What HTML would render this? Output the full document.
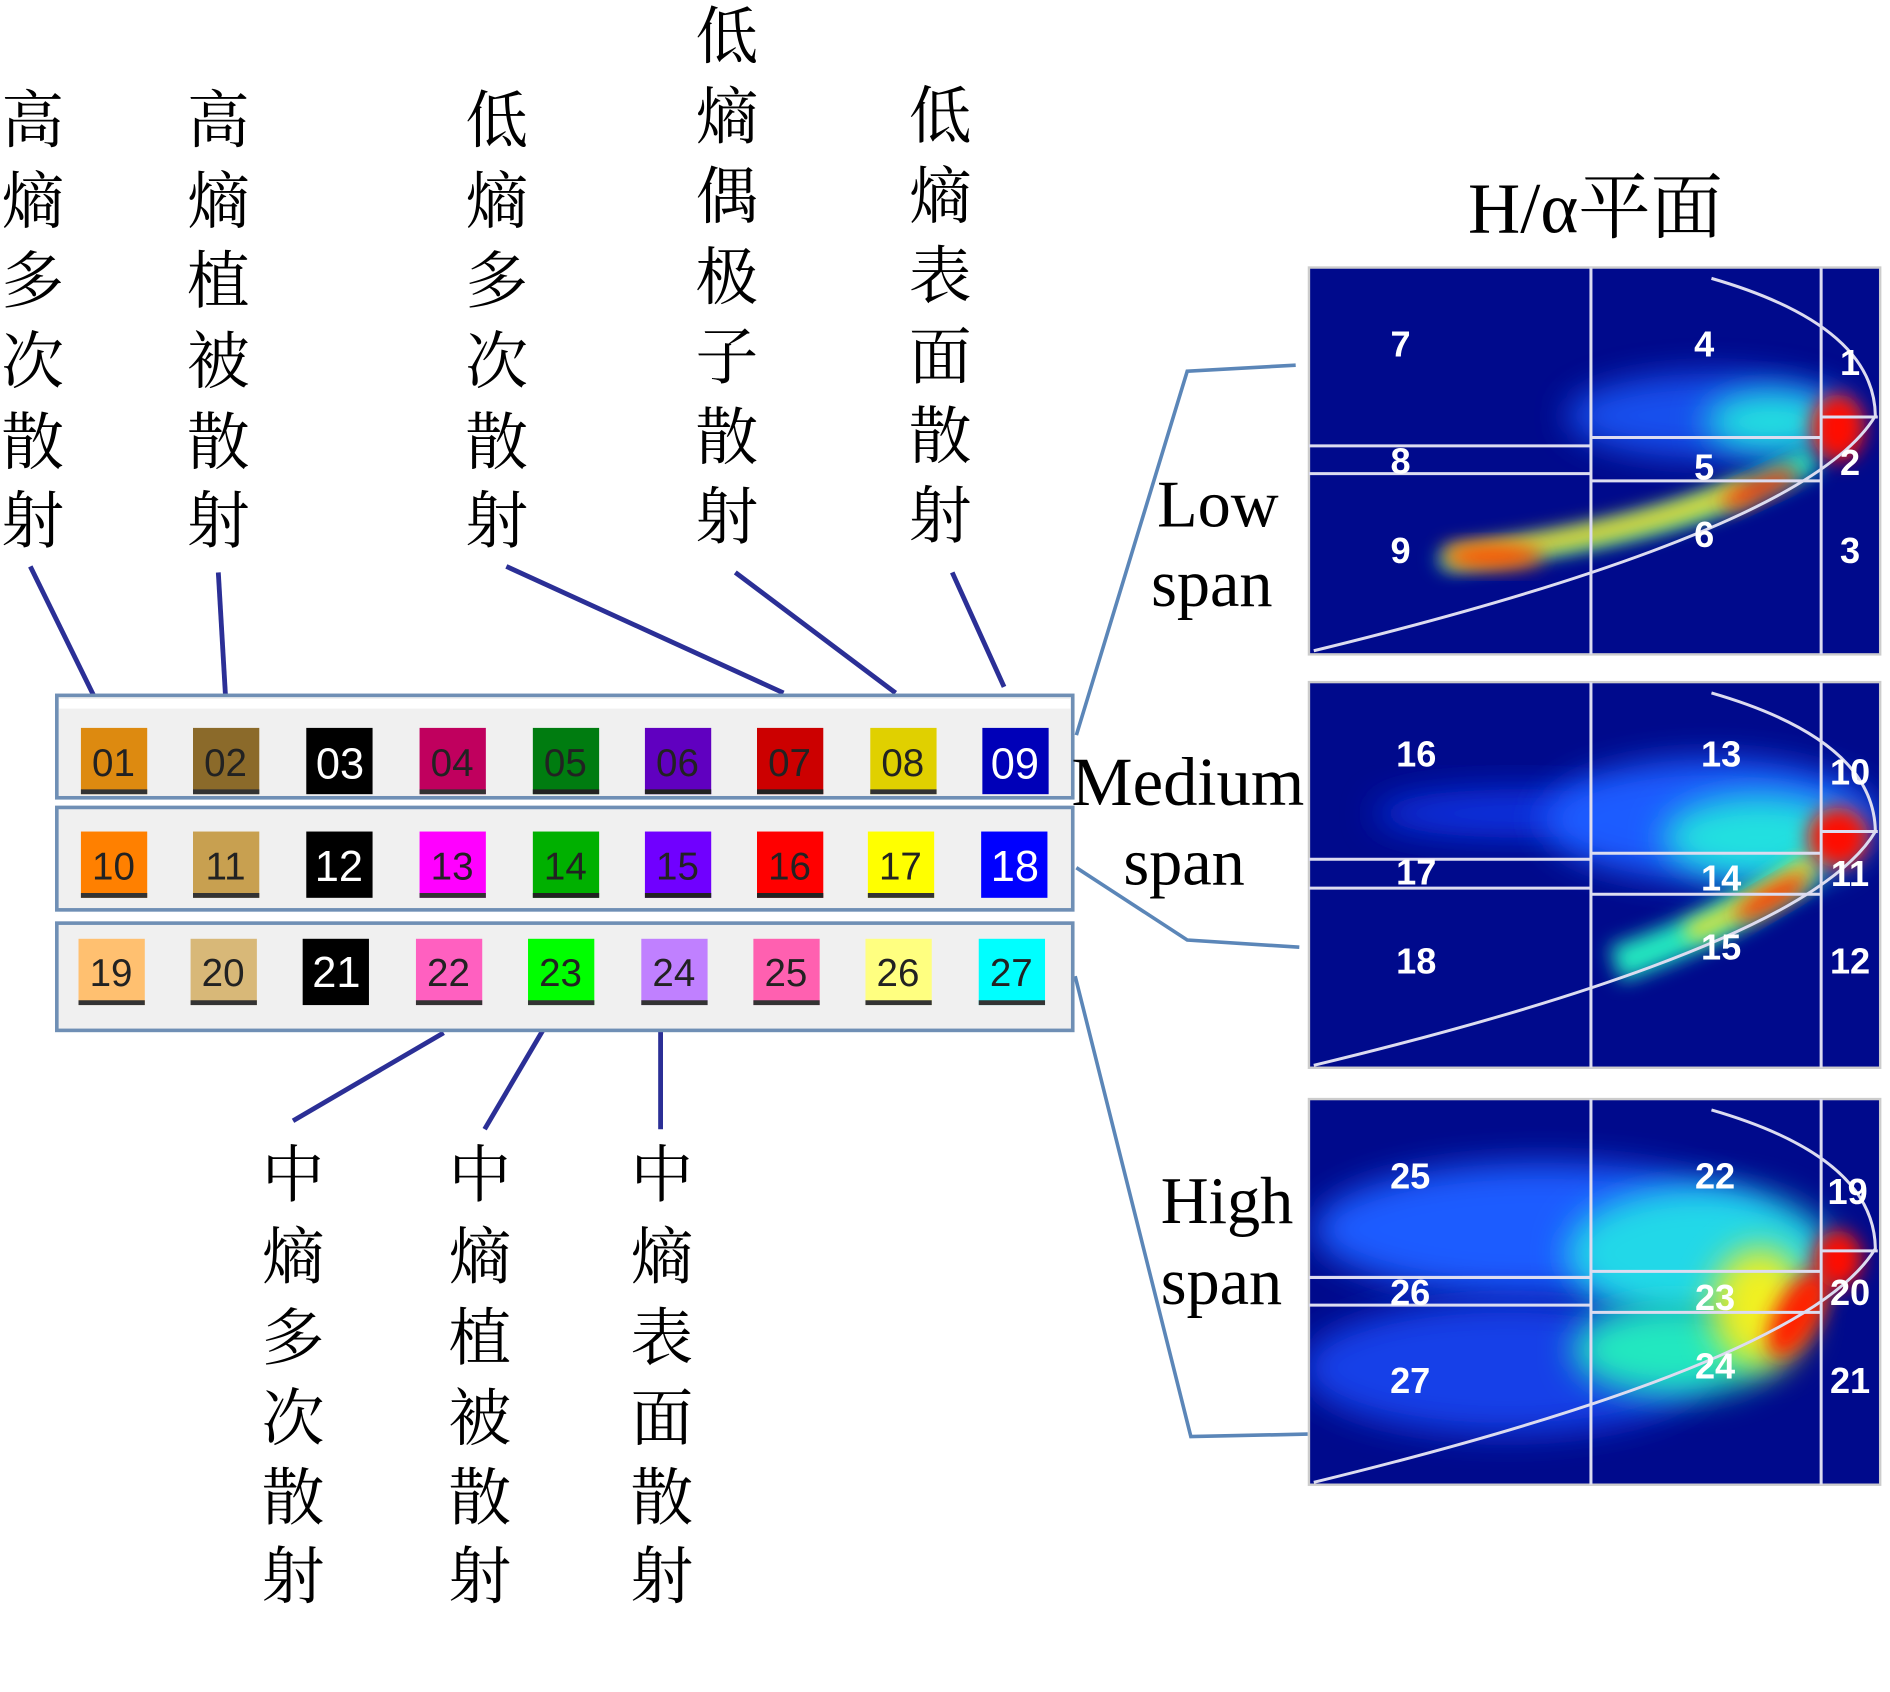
<!DOCTYPE html>
<html><head><meta charset="utf-8"><style>
html,body{margin:0;padding:0;background:#fff;}
svg{display:block;}
.cn{font-family:"Liberation Serif","Noto Serif CJK SC",serif;font-size:52px;fill:#000;text-anchor:middle;}
.en{font-family:"Liberation Serif","Noto Serif CJK SC",serif;font-size:55px;fill:#000;}
.num{font-family:"Liberation Sans",sans-serif;font-size:30px;fill:#fff;text-anchor:middle;font-weight:bold;}
.sw{font-family:"Liberation Sans",sans-serif;font-size:32px;text-anchor:middle;}
</style></head><body>
<svg width="1890" height="1692" viewBox="0 0 1568 1404" xmlns="http://www.w3.org/2000/svg">
<defs>
<filter id="b8" x="-50%" y="-50%" width="200%" height="200%"><feGaussianBlur stdDeviation="8"/></filter>
<filter id="b14" x="-50%" y="-50%" width="200%" height="200%"><feGaussianBlur stdDeviation="14"/></filter>
<clipPath id="c1"><rect x="1087" y="223" width="472" height="319"/></clipPath>
<clipPath id="c2"><rect x="1087" y="567" width="472" height="318"/></clipPath>
<clipPath id="c3"><rect x="1087" y="913" width="472" height="318"/></clipPath>
</defs>

<g class="cn">
<text x="27" y="118">高</text><text x="27" y="185">熵</text><text x="27" y="251">多</text><text x="27" y="318">次</text><text x="27" y="385">散</text><text x="27" y="450">射</text>
<text x="181" y="118">高</text><text x="181" y="185">熵</text><text x="181" y="251">植</text><text x="181" y="318">被</text><text x="181" y="385">散</text><text x="181" y="450">射</text>
<text x="412" y="118">低</text><text x="412" y="185">熵</text><text x="412" y="251">多</text><text x="412" y="318">次</text><text x="412" y="385">散</text><text x="412" y="450">射</text>
<text x="603" y="48">低</text><text x="603" y="115">熵</text><text x="603" y="181">偶</text><text x="603" y="248">极</text><text x="603" y="314">子</text><text x="603" y="381">散</text><text x="603" y="447">射</text>
<text x="780" y="114">低</text><text x="780" y="181">熵</text><text x="780" y="247">表</text><text x="780" y="314">面</text><text x="780" y="380">散</text><text x="780" y="446">射</text>
<text x="243" y="993">中</text><text x="243" y="1061">熵</text><text x="243" y="1128">多</text><text x="243" y="1195">次</text><text x="243" y="1261">散</text><text x="243" y="1326">射</text>
<text x="398" y="993">中</text><text x="398" y="1061">熵</text><text x="398" y="1128">植</text><text x="398" y="1195">被</text><text x="398" y="1261">散</text><text x="398" y="1326">射</text>
<text x="549" y="993">中</text><text x="549" y="1061">熵</text><text x="549" y="1128">表</text><text x="549" y="1195">面</text><text x="549" y="1261">散</text><text x="549" y="1326">射</text>
</g>

<g stroke="#2b2f96" stroke-width="4" fill="none">
<line x1="25" y1="470" x2="78" y2="578"/>
<line x1="181" y1="475" x2="187" y2="578"/>
<line x1="420" y1="470" x2="650" y2="575"/>
<line x1="610" y1="475" x2="743" y2="575"/>
<line x1="790" y1="475" x2="833" y2="570"/>
<line x1="368" y1="857" x2="243" y2="930"/>
<line x1="455" y1="847" x2="402" y2="937"/>
<line x1="548" y1="852" x2="548" y2="937"/>
</g>
<g stroke="#5b86b8" stroke-width="3" fill="none">
<polyline points="1075,303 985,308 893,610"/>
<polyline points="893,720 985,780 1078,786"/>
<polyline points="892,810 988,1192 1085,1190"/>
</g>

<g fill="#f0f0f0" stroke="#6f8fb5" stroke-width="3">
<rect x="47" y="577" width="843" height="85"/>
<rect x="47" y="670" width="843" height="85"/>
<rect x="47" y="766" width="843" height="89"/>
</g>
<rect x="49" y="580" width="839" height="8" fill="#fff"/>

<g>
<rect x="67" y="604" width="55" height="55" fill="#dd8a10"/><rect x="67" y="655" width="55" height="4" fill="#333"/><text class="sw" x="94" y="644" fill="#222">01</text>
<rect x="160" y="604" width="55" height="55" fill="#8b6a2a"/><rect x="160" y="655" width="55" height="4" fill="#333"/><text class="sw" x="187" y="644" fill="#222">02</text>
<rect x="254" y="604" width="55" height="55" fill="#000"/><text class="sw" x="282" y="646" fill="#fff" style="font-size:36px">03</text>
<rect x="348" y="604" width="55" height="55" fill="#c0005e"/><rect x="348" y="655" width="55" height="4" fill="#333"/><text class="sw" x="375" y="644" fill="#222">04</text>
<rect x="442" y="604" width="55" height="55" fill="#007c10"/><rect x="442" y="655" width="55" height="4" fill="#222"/><text class="sw" x="469" y="644" fill="#222">05</text>
<rect x="535" y="604" width="55" height="55" fill="#6000c0"/><rect x="535" y="655" width="55" height="4" fill="#222"/><text class="sw" x="562" y="644" fill="#222">06</text>
<rect x="628" y="604" width="55" height="55" fill="#cc0000"/><rect x="628" y="655" width="55" height="4" fill="#222"/><text class="sw" x="655" y="644" fill="#222">07</text>
<rect x="722" y="604" width="55" height="55" fill="#e0d000"/><rect x="722" y="655" width="55" height="4" fill="#333"/><text class="sw" x="749" y="644" fill="#222">08</text>
<rect x="815" y="604" width="55" height="55" fill="#0000b8"/><text class="sw" x="842" y="646" fill="#fff" style="font-size:36px">09</text>

<rect x="67" y="690" width="55" height="55" fill="#ff8000"/><rect x="67" y="741" width="55" height="4" fill="#333"/><text class="sw" x="94" y="730" fill="#222">10</text>
<rect x="160" y="690" width="55" height="55" fill="#c8a050"/><rect x="160" y="741" width="55" height="4" fill="#333"/><text class="sw" x="187" y="730" fill="#222">11</text>
<rect x="254" y="690" width="55" height="55" fill="#000"/><text class="sw" x="281" y="731" fill="#fff" style="font-size:36px">12</text>
<rect x="348" y="690" width="55" height="55" fill="#ff00ff"/><rect x="348" y="741" width="55" height="4" fill="#333"/><text class="sw" x="375" y="730" fill="#222">13</text>
<rect x="442" y="690" width="55" height="55" fill="#00b000"/><rect x="442" y="741" width="55" height="4" fill="#222"/><text class="sw" x="469" y="730" fill="#222">14</text>
<rect x="535" y="690" width="55" height="55" fill="#7000ff"/><rect x="535" y="741" width="55" height="4" fill="#222"/><text class="sw" x="562" y="730" fill="#222">15</text>
<rect x="628" y="690" width="55" height="55" fill="#ff0000"/><rect x="628" y="741" width="55" height="4" fill="#222"/><text class="sw" x="655" y="730" fill="#222">16</text>
<rect x="720" y="690" width="55" height="55" fill="#ffff00"/><rect x="720" y="741" width="55" height="4" fill="#333"/><text class="sw" x="747" y="730" fill="#222">17</text>
<rect x="814" y="690" width="55" height="55" fill="#0000ff"/><text class="sw" x="842" y="731" fill="#fff" style="font-size:36px">18</text>

<rect x="65" y="779" width="55" height="55" fill="#ffc070"/><rect x="65" y="830" width="55" height="4" fill="#333"/><text class="sw" x="92" y="818" fill="#222">19</text>
<rect x="158" y="779" width="55" height="55" fill="#d8b878"/><rect x="158" y="830" width="55" height="4" fill="#333"/><text class="sw" x="185" y="818" fill="#222">20</text>
<rect x="251" y="779" width="55" height="55" fill="#000"/><text class="sw" x="279" y="819" fill="#fff" style="font-size:36px">21</text>
<rect x="345" y="779" width="55" height="55" fill="#ff60c0"/><rect x="345" y="830" width="55" height="4" fill="#333"/><text class="sw" x="372" y="818" fill="#222">22</text>
<rect x="438" y="779" width="55" height="55" fill="#00ff00"/><rect x="438" y="830" width="55" height="4" fill="#333"/><text class="sw" x="465" y="818" fill="#222">23</text>
<rect x="532" y="779" width="55" height="55" fill="#c080ff"/><rect x="532" y="830" width="55" height="4" fill="#333"/><text class="sw" x="559" y="818" fill="#222">24</text>
<rect x="625" y="779" width="55" height="55" fill="#ff60b0"/><rect x="625" y="830" width="55" height="4" fill="#333"/><text class="sw" x="652" y="818" fill="#222">25</text>
<rect x="718" y="779" width="55" height="55" fill="#ffff80"/><rect x="718" y="830" width="55" height="4" fill="#333"/><text class="sw" x="745" y="818" fill="#222">26</text>
<rect x="812" y="779" width="55" height="55" fill="#00ffff"/><rect x="812" y="830" width="55" height="4" fill="#333"/><text class="sw" x="839" y="818" fill="#222">27</text>
</g>

<text class="en" x="1218" y="193" style="font-size:60px">H/α平面</text>
<text class="en" x="960" y="437">Low</text>
<text class="en" x="955" y="503">span</text>
<text class="en" x="889" y="668" style="font-size:57px">Medium</text>
<text class="en" x="932" y="734">span</text>
<text class="en" x="963" y="1015">High</text>
<text class="en" x="963" y="1082">span</text>

<!-- Plot 1 -->
<rect x="1086" y="222" width="474" height="321" fill="#000a8c" stroke="#ccc" stroke-width="2"/>
<g clip-path="url(#c1)">
<ellipse cx="1420" cy="345" rx="120" ry="35" fill="#1f5cff" filter="url(#b14)" opacity="0.85"/>
<ellipse cx="1470" cy="350" rx="55" ry="25" fill="#22e0e0" filter="url(#b14)"/>
<path d="M1190,462 Q1350,440 1440,400 L1500,370 L1510,390 Q1400,450 1200,472 Z" fill="#20e8c0" filter="url(#b8)"/>
<path d="M1200,462 Q1350,445 1450,405" stroke="#ffe020" stroke-width="16" fill="none" filter="url(#b8)"/>
<ellipse cx="1240" cy="462" rx="40" ry="10" fill="#ff5000" filter="url(#b8)"/>
<ellipse cx="1460" cy="405" rx="35" ry="9" fill="#ff3000" filter="url(#b8)" transform="rotate(-25 1460 405)"/>
<ellipse cx="1525" cy="355" rx="22" ry="28" fill="#ff1000" filter="url(#b8)"/>
</g>
<g stroke="#dcdcf0" stroke-width="2.5" fill="none">
<line x1="1320" y1="222" x2="1320" y2="543"/><line x1="1511" y1="222" x2="1511" y2="543"/>
<line x1="1086" y1="370" x2="1320" y2="370"/><line x1="1086" y1="393" x2="1320" y2="393"/>
<line x1="1320" y1="363" x2="1511" y2="363"/><line x1="1320" y1="399" x2="1511" y2="399"/>
<line x1="1511" y1="346" x2="1558" y2="346"/>
<path d="M1420,231 Q1555,270 1556,345 Q1500,440 1090,540"/>
</g>
<g class="num"><text x="1162" y="296">7</text><text x="1414" y="296">4</text><text x="1535" y="311">1</text>
<text x="1162" y="393">8</text><text x="1414" y="398">5</text><text x="1535" y="394">2</text>
<text x="1162" y="467">9</text><text x="1414" y="454">6</text><text x="1535" y="467">3</text></g>

<!-- Plot 2 -->
<rect x="1086" y="566" width="474" height="320" fill="#000a8c" stroke="#ccc" stroke-width="2"/>
<g clip-path="url(#c2)">
<ellipse cx="1260" cy="675" rx="120" ry="20" fill="#0a30e0" filter="url(#b14)"/>
<ellipse cx="1420" cy="680" rx="140" ry="50" fill="#1f5cff" filter="url(#b14)"/>
<ellipse cx="1460" cy="695" rx="80" ry="35" fill="#22e0e0" filter="url(#b14)"/>
<path d="M1340,800 Q1430,770 1500,720" stroke="#22e8c0" stroke-width="30" fill="none" filter="url(#b8)"/>
<path d="M1400,775 Q1460,750 1505,715" stroke="#ffe020" stroke-width="14" fill="none" filter="url(#b8)"/>
<ellipse cx="1470" cy="745" rx="35" ry="9" fill="#ff3000" filter="url(#b8)" transform="rotate(-30 1470 745)"/>
<ellipse cx="1525" cy="695" rx="25" ry="25" fill="#ff1000" filter="url(#b8)"/>
</g>
<g stroke="#dcdcf0" stroke-width="2.5" fill="none">
<line x1="1320" y1="566" x2="1320" y2="886"/><line x1="1511" y1="566" x2="1511" y2="886"/>
<line x1="1086" y1="713" x2="1320" y2="713"/><line x1="1086" y1="737" x2="1320" y2="737"/>
<line x1="1320" y1="708" x2="1511" y2="708"/><line x1="1320" y1="742" x2="1511" y2="742"/>
<line x1="1511" y1="690" x2="1558" y2="690"/>
<path d="M1420,575 Q1555,614 1556,690 Q1500,785 1090,884"/>
</g>
<g class="num"><text x="1175" y="636">16</text><text x="1428" y="636">13</text><text x="1535" y="651">10</text>
<text x="1175" y="734">17</text><text x="1428" y="739">14</text><text x="1535" y="735">11</text>
<text x="1175" y="808">18</text><text x="1428" y="796">15</text><text x="1535" y="808">12</text></g>

<!-- Plot 3 -->
<rect x="1086" y="912" width="474" height="320" fill="#000a8c" stroke="#ccc" stroke-width="2"/>
<g clip-path="url(#c3)">
<ellipse cx="1280" cy="1020" rx="190" ry="55" fill="#1f5cff" filter="url(#b14)"/>
<ellipse cx="1250" cy="1135" rx="170" ry="55" fill="#1540e8" filter="url(#b14)"/>
<ellipse cx="1410" cy="1040" rx="110" ry="55" fill="#22d8e8" filter="url(#b14)"/>
<ellipse cx="1390" cy="1120" rx="85" ry="38" fill="#22e8c0" filter="url(#b14)"/>
<ellipse cx="1460" cy="1085" rx="40" ry="50" fill="#f0f020" filter="url(#b14)"/>
<ellipse cx="1492" cy="1090" rx="18" ry="40" fill="#ff2000" filter="url(#b8)" transform="rotate(30 1492 1090)"/>
<ellipse cx="1525" cy="1045" rx="20" ry="24" fill="#ff1000" filter="url(#b8)"/>
</g>
<g stroke="#dcdcf0" stroke-width="2.5" fill="none">
<line x1="1320" y1="912" x2="1320" y2="1232"/><line x1="1511" y1="912" x2="1511" y2="1232"/>
<line x1="1086" y1="1060" x2="1320" y2="1060"/><line x1="1086" y1="1083" x2="1320" y2="1083"/>
<line x1="1320" y1="1055" x2="1511" y2="1055"/><line x1="1320" y1="1089" x2="1511" y2="1089"/>
<line x1="1511" y1="1038" x2="1558" y2="1038"/>
<path d="M1420,921 Q1555,960 1556,1036 Q1500,1130 1090,1230"/>
</g>
<g class="num"><text x="1170" y="986">25</text><text x="1423" y="986">22</text><text x="1533" y="999">19</text>
<text x="1170" y="1083">26</text><text x="1423" y="1087">23</text><text x="1535" y="1083">20</text>
<text x="1170" y="1156">27</text><text x="1423" y="1144">24</text><text x="1535" y="1156">21</text></g>
</svg>
</body></html>
